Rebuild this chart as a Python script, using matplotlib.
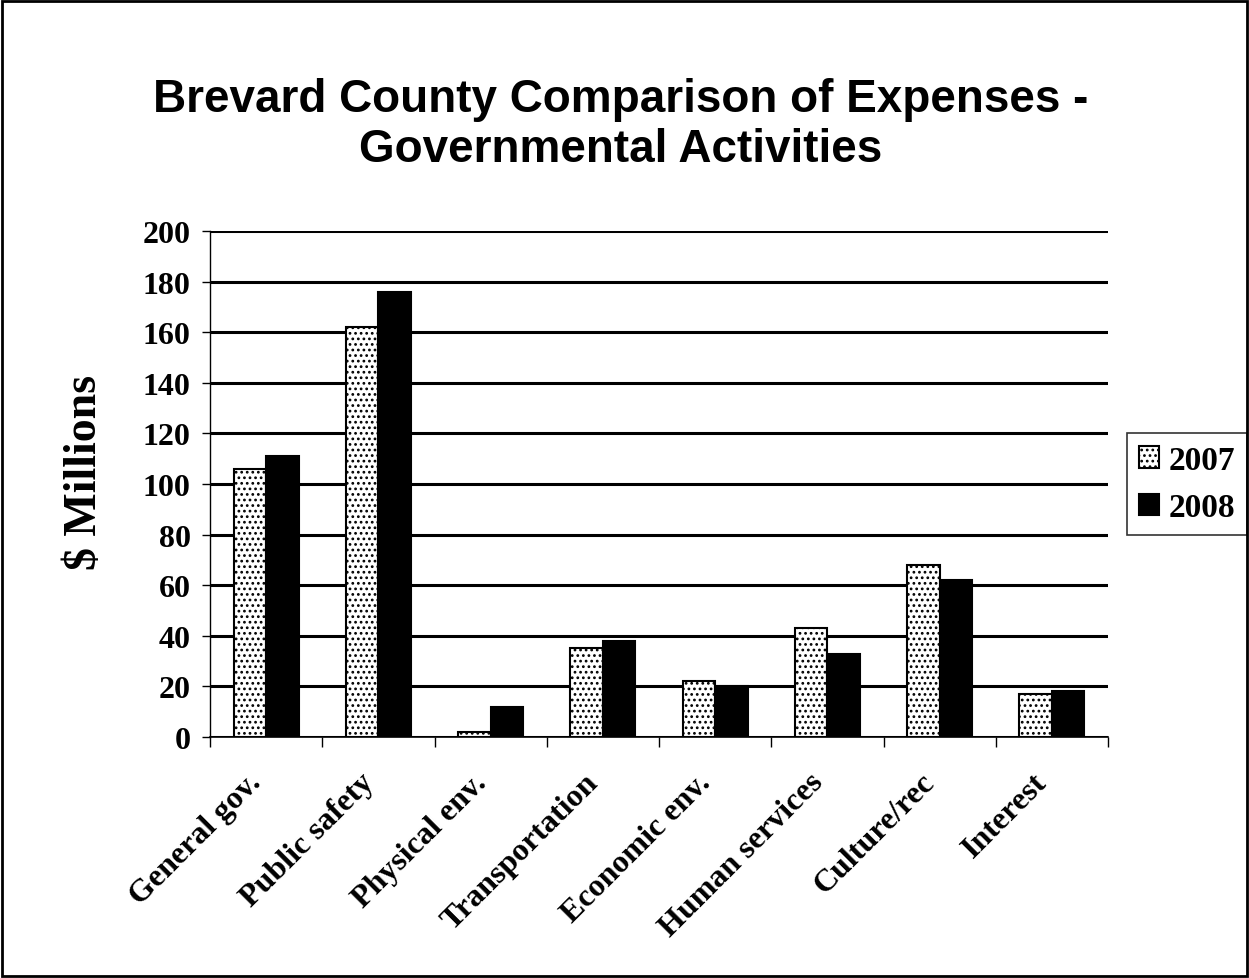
import numpy as np
import matplotlib
matplotlib.use("Agg")
import matplotlib.pyplot as plt
from matplotlib.patches import Rectangle

categories = ["General gov.", "Public safety", "Physical env.", "Transportation",
              "Economic env.", "Human services", "Culture/rec", "Interest"]
exp_2007 = [106, 162, 2, 35, 22, 43, 68, 17]
exp_2008 = [111, 176, 12, 38, 20, 33, 62, 18]
y_ticks = [0, 20, 40, 60, 80, 100, 120, 140, 160, 180, 200]

serif = ["Liberation Serif", "DejaVu Serif"]
plt.rcParams["hatch.linewidth"] = 1.2

fig = plt.figure(figsize=(12.49, 9.79), dpi=100)
ax = fig.add_axes([210 / 1249, 1 - 738 / 979, 898 / 1249, 506 / 979])

x = np.arange(len(categories))
w = 0.29
ax.bar(x - w / 2, exp_2007, w, color="white", edgecolor="black", hatch="...",
       linewidth=1.5, label="2007", zorder=3)
ax.bar(x + w / 2, exp_2008, w, color="black", edgecolor="black",
       linewidth=1.5, label="2008", zorder=3)

ax.set_xlim(-0.5, len(categories) - 0.5)
ax.set_ylim(0, 200)
ax.set_yticks(y_ticks)
ax.yaxis.grid(True, color="black", linewidth=2.2, zorder=0)
ax.set_axisbelow(True)

# category boundaries get the tick marks, labels sit on minor ticks
ax.set_xticks(np.arange(len(categories) + 1) - 0.5)
ax.set_xticklabels([])
ax.set_xticks(x - 0.17, minor=True)
ax.set_xticklabels(categories, minor=True, rotation=45, ha="right", va="top",
                   rotation_mode="anchor", fontsize=23, fontweight="bold", family=serif)
ax.tick_params(axis="x", which="minor", length=0, pad=22)
ax.tick_params(axis="x", which="major", length=7, direction="out", width=1)
ax.tick_params(axis="y", length=6, width=1, direction="out", pad=8)
for lab in ax.get_yticklabels():
    lab.set_fontsize(23)
    lab.set_fontweight("bold")
    lab.set_family(serif)

ax.spines["right"].set_visible(False)
ax.spines["top"].set_visible(False)
ax.spines["left"].set_linewidth(1)
ax.spines["bottom"].set_linewidth(1.2)

ax.set_ylabel("$ Millions", fontsize=33, fontweight="bold", family=serif)
ax.yaxis.set_label_coords((106 - 210) / 898, (738 - 472) / 506)

leg = ax.legend(loc="center left", bbox_to_anchor=(1.01, 0.5), frameon=True,
                fancybox=False, edgecolor="black", prop={"family": serif, "weight": "bold", "size": 24},
                handlelength=0.6, handleheight=0.6, handletextpad=0.3, borderpad=0.35,
                labelspacing=0.5, borderaxespad=0.3)
leg.get_frame().set_linewidth(1.2)

fig.text(0.497, 1 - 100 / 979, "Brevard County Comparison of Expenses -",
         ha="center", va="center", fontsize=33, fontweight="bold",
         family=["Liberation Sans", "DejaVu Sans"])
fig.text(0.497, 1 - 150 / 979, "Governmental Activities",
         ha="center", va="center", fontsize=33, fontweight="bold",
         family=["Liberation Sans", "DejaVu Sans"])

fig.patches.append(Rectangle((0.002, 0.002), 0.996, 0.996, transform=fig.transFigure,
                             fill=False, edgecolor="black", linewidth=2))

fig.savefig("out.png", dpi=100)
